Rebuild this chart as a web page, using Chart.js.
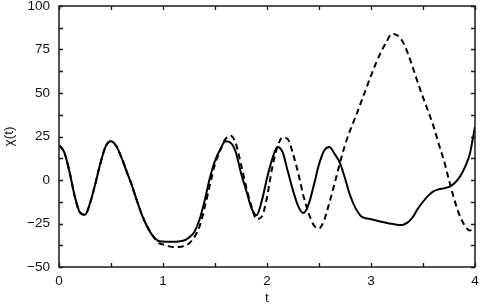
<!DOCTYPE html>
<html>
<head>
<meta charset="utf-8">
<script src="https://cdn.jsdelivr.net/npm/chart.js@4/dist/chart.umd.min.js"></script>
<style>
html,body{margin:0;padding:0;background:#fff;}
#wrap{width:482px;height:306px;position:relative;}
</style>
</head>
<body>
<div id="wrap"><canvas id="c" width="482" height="306"></canvas></div>
<script>
// time samples t = 0 .. 4, step 0.05
const tValues = [];
for (let i = 0; i <= 80; i++) tValues.push(+(i * 0.05).toFixed(2));

const solidValues = [
  20, 16, 5, -9, -18.5, -20, -13, -2, 10, 19.5,
  22.3, 19.5, 13, 5, -3, -12, -20.5, -27, -32, -34.8,
  -35.4, -35.5, -35.5, -35.3, -34.8, -33, -30, -23, -12, 1,
  11, 17.5, 22.2, 21.4, 16, 4, -6, -16, -20.3, -12,
  1, 12, 19, 16, 5, -6, -15, -19, -14, -3,
  9, 17, 19, 15, 10, 1, -9, -16, -20.5, -22,
  -22.5, -23.3, -24, -24.6, -25.2, -25.7, -25.8, -24.5, -21.5, -16.5,
  -12.5, -9, -6.5, -5.4, -4.8, -4, -2, 1.5, 7, 15,
  30.6
];

const dashedValues = [
  20, 16, 5, -9, -18.5, -20, -13, -2, 10, 19.5,
  22.3, 19.5, 13, 5, -3, -12, -20.5, -27, -32, -35.8,
  -37, -38, -38.5, -38.5, -38, -36.5, -33, -27, -16, -3,
  9, 17, 23.5, 25.5, 21, 9, -4, -15, -22.5, -21,
  -10, 7, 19, 24.5, 23.5, 15, 4, -9, -19, -26,
  -27.8, -23, -13, -2, 9.6, 20, 28.7, 36, 44, 52,
  60, 67.5, 74, 79.5, 84, 83.3, 80, 73.5, 65, 56,
  47.5, 39.5, 31, 21, 11.5, 0, -11, -20, -26, -29,
  -27.8
];

const xTickLabels = ['0', '1', '2', '3', '4'];
const yTickLabels = ['\u221250', '\u221225', '0', '25', '50', '75', '100'];
const xTitle = 't';
const yTitle = '\u03c7(t)';

const X_MIN = 0, X_MAX = 4, Y_MIN = -50, Y_MAX = 100;

const toXY = vals => vals.map((v, i) => ({ x: tValues[i], y: v }));

const framePlugin = {
  id: 'frame',
  afterDatasetsDraw(chart) {
    const ctx = chart.ctx;
    const a = chart.chartArea;
    const xs = chart.scales.x, ys = chart.scales.y;
    ctx.save();
    ctx.strokeStyle = '#1a1a1a';
    ctx.lineWidth = 1.3;
    ctx.beginPath();
    const tl = 4;
    for (let v = X_MIN; v <= X_MAX + 1e-9; v += 0.5) {
      const px = Math.round(xs.getPixelForValue(v)) + 0.5;
      ctx.moveTo(px, a.bottom); ctx.lineTo(px, a.bottom - tl);
      ctx.moveTo(px, a.top); ctx.lineTo(px, a.top + tl);
    }
    for (let v = Y_MIN; v <= Y_MAX + 1e-9; v += 12.5) {
      const py = Math.round(ys.getPixelForValue(v)) + 0.5;
      ctx.moveTo(a.left, py); ctx.lineTo(a.left + tl, py);
      ctx.moveTo(a.right, py); ctx.lineTo(a.right - tl, py);
    }
    ctx.stroke();
    ctx.lineWidth = 1.5;
    ctx.strokeRect(a.left, a.top, a.right - a.left, a.bottom - a.top);
    ctx.restore();
  }
};

const font = { family: '"Liberation Sans", Arial, sans-serif', size: 13.5 };

new Chart(document.getElementById('c'), {
  type: 'line',
  data: {
    datasets: [
      {
        label: 'solid',
        data: toXY(solidValues),
        borderColor: '#000',
        borderWidth: 2,
        pointRadius: 0,
        fill: false,
        cubicInterpolationMode: 'monotone'
      },
      {
        label: 'dashed',
        data: toXY(dashedValues),
        borderColor: '#000',
        borderWidth: 2,
        borderDash: [6, 4],
        pointRadius: 0,
        fill: false,
        cubicInterpolationMode: 'monotone'
      }
    ]
  },
  options: {
    responsive: false,
    animation: false,
    events: [],
    layout: { padding: { top: 6, right: 7, left: 0, bottom: 0 } },
    plugins: { legend: { display: false }, tooltip: { enabled: false } },
    scales: {
      x: {
        type: 'linear',
        min: X_MIN, max: X_MAX,
        grid: { display: false, drawTicks: false },
        border: { display: false },
        ticks: {
          stepSize: 1,
          padding: 6,
          color: '#111',
          font: font,
          maxRotation: 0,
          callback: (v) => xTickLabels[Math.round(v)]
        },
        title: { display: true, text: xTitle, color: '#111', font: font, padding: { top: 0, bottom: 0 } },
        afterFit: s => { s.height = 39; s.paddingLeft = 0; s.paddingRight = 0; }
      },
      y: {
        type: 'linear',
        min: Y_MIN, max: Y_MAX,
        grid: { display: false, drawTicks: false },
        border: { display: false },
        ticks: {
          stepSize: 25,
          padding: 9,
          color: '#111',
          font: font,
          callback: (v) => yTickLabels[Math.round((v - Y_MIN) / 25)]
        },
        title: { display: true, text: yTitle, color: '#111', font: font, padding: { top: 1, bottom: 0 } },
        afterFit: s => { s.width = 59; s.paddingTop = 0; s.paddingBottom = 0; }
      }
    }
  },
  plugins: [framePlugin]
});
</script>
</body>
</html>
